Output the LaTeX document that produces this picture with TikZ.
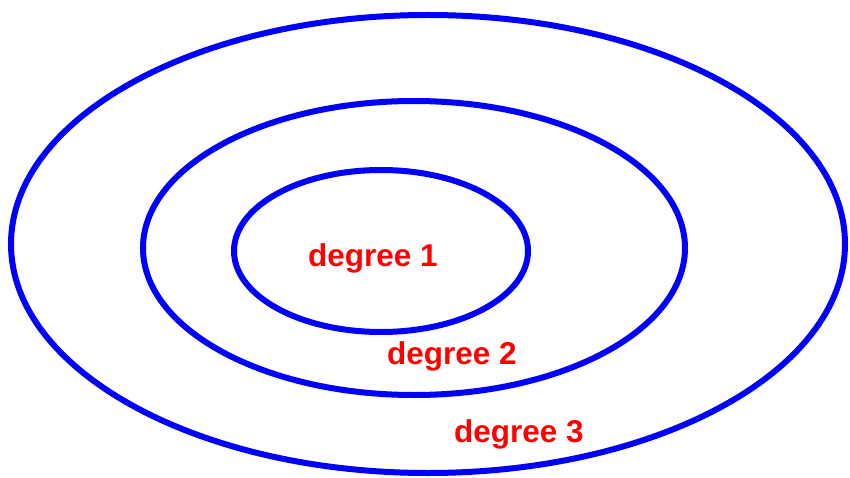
\documentclass[tikz,border=0pt]{standalone}
\usepackage{fontspec}
\setmainfont{Liberation Sans}
\begin{document}
\begin{tikzpicture}[x=1pt,y=-1pt,
  ring/.style={draw=blue,line width=6pt},
  lbl/.style={text=red,font=\fontsize{31.5}{36}\selectfont\bfseries,inner sep=0pt}]
\useasboundingbox (0,0) rectangle (850,478);
\draw[ring] (428,244) ellipse [x radius=417,y radius=229];
\draw[ring] (414,248) ellipse [x radius=271,y radius=147];
\draw[ring] (381,251) ellipse [x radius=147,y radius=81];
\node[lbl] (d1) at (373,258) {degree 1};
\node[lbl] (d2) at (452,356) {degree 2};
\node[lbl] (d3) at (519,434) {degree 3};
\end{tikzpicture}
\end{document}
